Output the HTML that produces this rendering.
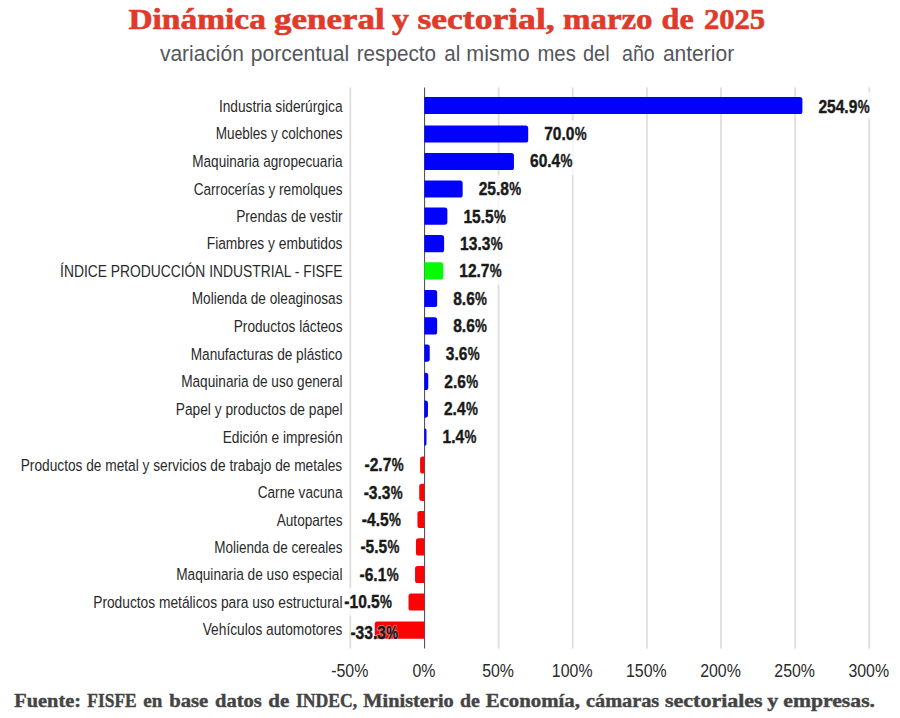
<!DOCTYPE html>
<html><head><meta charset="utf-8"><title>Dinámica general y sectorial</title>
<style>
html,body{margin:0;padding:0;background:#fff;}
body{width:900px;height:718px;overflow:hidden;}
svg{display:block;}
text{font-family:"Liberation Sans",sans-serif;}
.t{font-family:"Liberation Serif",serif;font-weight:bold;font-size:29.2px;fill:#df3a2a;stroke:#df3a2a;stroke-width:0.6px;}
.s{font-size:21.6px;fill:#53575c;}
.f{font-family:"Liberation Serif",serif;font-weight:bold;font-size:17.8px;fill:#444;stroke:#444;stroke-width:0.4px;}
.cat{font-size:16.5px;fill:#2a2a2a;}
.val{font-size:18.6px;font-weight:bold;fill:#1a1a1a;stroke:#1a1a1a;stroke-width:0.4px;}
.ax{font-size:19.0px;fill:#2a2a2a;}
</style></head><body>
<svg width="900" height="718" viewBox="0 0 900 718">
<rect width="900" height="718" fill="#ffffff"/>
<text class="t" transform="translate(128.40,28.5) scale(1.1463,1)">Dinámica</text>
<text class="t" transform="translate(274.00,28.5) scale(1.1985,1)">general</text>
<text class="t" transform="translate(392.00,28.5) scale(1.1644,1)">y</text>
<text class="t" transform="translate(417.50,28.5) scale(1.2176,1)">sectorial,</text>
<text class="t" transform="translate(563.00,28.5) scale(1.1277,1)">marzo</text>
<text class="t" transform="translate(661.60,28.5) scale(1.0993,1)">de</text>
<text class="t" transform="translate(704.00,28.5) scale(1.0479,1)">2025</text>
<text class="s" transform="translate(160.00,60.7) scale(0.9706,1)">variación</text>
<text class="s" transform="translate(250.70,60.7) scale(0.9775,1)">porcentual</text>
<text class="s" transform="translate(356.70,60.7) scale(0.9573,1)">respecto</text>
<text class="s" transform="translate(444.20,60.7) scale(0.9521,1)">al</text>
<text class="s" transform="translate(466.30,60.7) scale(0.9954,1)">mismo</text>
<text class="s" transform="translate(537.40,60.7) scale(0.9411,1)">mes</text>
<text class="s" transform="translate(582.90,60.7) scale(0.9266,1)">del</text>
<text class="s" transform="translate(622.00,60.7) scale(0.9076,1)">año</text>
<text class="s" transform="translate(662.90,60.7) scale(0.9734,1)">anterior</text>
<line x1="350.30" y1="87.5" x2="350.30" y2="648.5" stroke="#dedede" stroke-width="1.8"/>
<line x1="498.58" y1="87.5" x2="498.58" y2="648.5" stroke="#dedede" stroke-width="1.8"/>
<line x1="572.72" y1="87.5" x2="572.72" y2="648.5" stroke="#dedede" stroke-width="1.8"/>
<line x1="646.86" y1="87.5" x2="646.86" y2="648.5" stroke="#dedede" stroke-width="1.8"/>
<line x1="721.00" y1="87.5" x2="721.00" y2="648.5" stroke="#dedede" stroke-width="1.8"/>
<line x1="795.14" y1="87.5" x2="795.14" y2="648.5" stroke="#dedede" stroke-width="1.8"/>
<line x1="869.28" y1="87.5" x2="869.28" y2="648.5" stroke="#dedede" stroke-width="1.8"/>
<line x1="424.59999999999997" y1="87.5" x2="424.59999999999997" y2="648.5" stroke="#444" stroke-width="1"/>
<path d="M424.40 96.90H799.79Q802.39 96.90 802.39 99.50V111.50Q802.39 114.10 799.79 114.10H424.40Z" fill="#0202fc"/>
<path d="M424.40 125.40H525.60Q528.20 125.40 528.20 128.00V140.00Q528.20 142.60 525.60 142.60H424.40Z" fill="#0202fc"/>
<path d="M424.40 152.90H511.37Q513.97 152.90 513.97 155.50V167.50Q513.97 170.10 511.37 170.10H424.40Z" fill="#0202fc"/>
<path d="M424.40 180.40H460.06Q462.66 180.40 462.66 183.00V195.00Q462.66 197.60 460.06 197.60H424.40Z" fill="#0202fc"/>
<path d="M424.40 207.50H444.78Q447.38 207.50 447.38 210.10V222.10Q447.38 224.70 444.78 224.70H424.40Z" fill="#0202fc"/>
<path d="M424.40 235.10H441.52Q444.12 235.10 444.12 237.70V249.70Q444.12 252.30 441.52 252.30H424.40Z" fill="#0202fc"/>
<path d="M424.40 262.30H440.63Q443.23 262.30 443.23 264.90V276.90Q443.23 279.50 440.63 279.50H424.40Z" fill="#04fb04"/>
<path d="M424.40 289.90H434.55Q437.15 289.90 437.15 292.50V304.50Q437.15 307.10 434.55 307.10H424.40Z" fill="#0202fc"/>
<path d="M424.40 317.30H434.55Q437.15 317.30 437.15 319.90V331.90Q437.15 334.50 434.55 334.50H424.40Z" fill="#0202fc"/>
<path d="M424.40 344.50H427.14Q429.74 344.50 429.74 347.10V359.10Q429.74 361.70 427.14 361.70H424.40Z" fill="#0202fc"/>
<path d="M424.40 372.80H425.66Q428.26 372.80 428.26 375.40V387.40Q428.26 390.00 425.66 390.00H424.40Z" fill="#0202fc"/>
<path d="M424.40 400.50H425.36Q427.96 400.50 427.96 403.10V415.10Q427.96 417.70 425.36 417.70H424.40Z" fill="#0202fc"/>
<path d="M424.40 428.40H424.82Q426.48 428.40 426.48 430.06V443.94Q426.48 445.60 424.82 445.60H424.40Z" fill="#0202fc"/>
<path d="M424.10 456.40H422.70Q420.10 456.40 420.10 459.00V471.00Q420.10 473.60 422.70 473.60H424.10Z" fill="#fd0202"/>
<path d="M424.10 483.70H421.81Q419.21 483.70 419.21 486.30V498.30Q419.21 500.90 421.81 500.90H424.10Z" fill="#fd0202"/>
<path d="M424.10 510.90H420.03Q417.43 510.90 417.43 513.50V525.50Q417.43 528.10 420.03 528.10H424.10Z" fill="#fd0202"/>
<path d="M424.10 538.30H418.54Q415.94 538.30 415.94 540.90V552.90Q415.94 555.50 418.54 555.50H424.10Z" fill="#fd0202"/>
<path d="M424.10 565.90H417.65Q415.05 565.90 415.05 568.50V580.50Q415.05 583.10 417.65 583.10H424.10Z" fill="#fd0202"/>
<path d="M424.10 593.40H411.13Q408.53 593.40 408.53 596.00V608.00Q408.53 610.60 411.13 610.60H424.10Z" fill="#fd0202"/>
<path d="M424.10 621.50H377.32Q374.72 621.50 374.72 624.10V636.10Q374.72 638.70 377.32 638.70H424.10Z" fill="#fd0202"/>
<rect x="814.39" y="91.71" width="59.21" height="27.58" fill="#fff" fill-opacity="0.75"/>
<rect x="540.20" y="120.21" width="50.54" height="27.58" fill="#fff" fill-opacity="0.75"/>
<rect x="525.97" y="147.71" width="50.54" height="27.58" fill="#fff" fill-opacity="0.75"/>
<rect x="474.66" y="175.21" width="50.54" height="27.58" fill="#fff" fill-opacity="0.75"/>
<rect x="459.38" y="202.31" width="50.54" height="27.58" fill="#fff" fill-opacity="0.75"/>
<rect x="456.12" y="229.91" width="50.54" height="27.58" fill="#fff" fill-opacity="0.75"/>
<rect x="455.23" y="257.11" width="50.54" height="27.58" fill="#fff" fill-opacity="0.75"/>
<rect x="449.15" y="284.71" width="41.88" height="27.58" fill="#fff" fill-opacity="0.75"/>
<rect x="449.15" y="312.11" width="41.88" height="27.58" fill="#fff" fill-opacity="0.75"/>
<rect x="441.74" y="339.31" width="41.88" height="27.58" fill="#fff" fill-opacity="0.75"/>
<rect x="440.26" y="367.61" width="41.88" height="27.58" fill="#fff" fill-opacity="0.75"/>
<rect x="439.96" y="395.31" width="41.88" height="27.58" fill="#fff" fill-opacity="0.75"/>
<rect x="438.48" y="423.21" width="41.88" height="27.58" fill="#fff" fill-opacity="0.75"/>
<rect x="360.53" y="451.21" width="47.07" height="27.58" fill="#fff" fill-opacity="0.75"/>
<rect x="359.64" y="478.51" width="47.07" height="27.58" fill="#fff" fill-opacity="0.75"/>
<rect x="357.86" y="505.71" width="47.07" height="27.58" fill="#fff" fill-opacity="0.75"/>
<rect x="356.38" y="533.11" width="47.07" height="27.58" fill="#fff" fill-opacity="0.75"/>
<rect x="355.49" y="560.71" width="47.07" height="27.58" fill="#fff" fill-opacity="0.75"/>
<rect x="340.29" y="588.21" width="55.73" height="27.58" fill="#fff" fill-opacity="0.75"/>
<text class="cat" transform="translate(218.90,112.20) scale(0.8325,1)">Industria siderúrgica</text>
<text class="val" transform="translate(818.39,112.60) scale(0.8380,1)">254.9</text><text class="val" transform="translate(857.70,112.60) scale(0.7200,1)">%</text>
<text class="cat" transform="translate(215.80,139.40) scale(0.8230,1)">Muebles y colchones</text>
<text class="val" transform="translate(544.20,139.80) scale(0.8380,1)">70.0</text><text class="val" transform="translate(574.84,139.80) scale(0.7200,1)">%</text>
<text class="cat" transform="translate(192.20,166.90) scale(0.8239,1)">Maquinaria agropecuaria</text>
<text class="val" transform="translate(529.97,167.30) scale(0.8380,1)">60.4</text><text class="val" transform="translate(560.60,167.30) scale(0.7200,1)">%</text>
<text class="cat" transform="translate(193.70,194.60) scale(0.8243,1)">Carrocerías y remolques</text>
<text class="val" transform="translate(478.66,195.00) scale(0.8380,1)">25.8</text><text class="val" transform="translate(509.30,195.00) scale(0.7200,1)">%</text>
<text class="cat" transform="translate(236.20,222.10) scale(0.8286,1)">Prendas de vestir</text>
<text class="val" transform="translate(463.38,222.50) scale(0.8380,1)">15.5</text><text class="val" transform="translate(494.02,222.50) scale(0.7200,1)">%</text>
<text class="cat" transform="translate(206.70,249.40) scale(0.8373,1)">Fiambres y embutidos</text>
<text class="val" transform="translate(460.12,249.80) scale(0.8380,1)">13.3</text><text class="val" transform="translate(490.76,249.80) scale(0.7200,1)">%</text>
<text class="cat" transform="translate(60.10,276.70) scale(0.8389,1)">ÍNDICE PRODUCCIÓN INDUSTRIAL - FISFE</text>
<text class="val" transform="translate(459.23,277.10) scale(0.8380,1)">12.7</text><text class="val" transform="translate(489.87,277.10) scale(0.7200,1)">%</text>
<text class="cat" transform="translate(191.70,304.30) scale(0.8266,1)">Molienda de oleaginosas</text>
<text class="val" transform="translate(453.15,304.70) scale(0.8380,1)">8.6</text><text class="val" transform="translate(475.12,304.70) scale(0.7200,1)">%</text>
<text class="cat" transform="translate(233.70,332.00) scale(0.8303,1)">Productos lácteos</text>
<text class="val" transform="translate(453.15,332.40) scale(0.8380,1)">8.6</text><text class="val" transform="translate(475.12,332.40) scale(0.7200,1)">%</text>
<text class="cat" transform="translate(190.70,359.50) scale(0.8281,1)">Manufacturas de plástico</text>
<text class="val" transform="translate(445.74,359.90) scale(0.8380,1)">3.6</text><text class="val" transform="translate(467.71,359.90) scale(0.7200,1)">%</text>
<text class="cat" transform="translate(181.20,387.40) scale(0.8261,1)">Maquinaria de uso general</text>
<text class="val" transform="translate(444.26,387.80) scale(0.8380,1)">2.6</text><text class="val" transform="translate(466.22,387.80) scale(0.7200,1)">%</text>
<text class="cat" transform="translate(175.70,414.80) scale(0.8346,1)">Papel y productos de papel</text>
<text class="val" transform="translate(443.96,415.20) scale(0.8380,1)">2.4</text><text class="val" transform="translate(465.93,415.20) scale(0.7200,1)">%</text>
<text class="cat" transform="translate(222.70,442.90) scale(0.8327,1)">Edición e impresión</text>
<text class="val" transform="translate(442.48,443.30) scale(0.8380,1)">1.4</text><text class="val" transform="translate(464.44,443.30) scale(0.7200,1)">%</text>
<text class="cat" transform="translate(20.70,471.00) scale(0.8317,1)">Productos de metal y servicios de trabajo de metales</text>
<text class="val" transform="translate(364.53,471.40) scale(0.8380,1)">-2.7</text><text class="val" transform="translate(391.69,471.40) scale(0.7200,1)">%</text>
<text class="cat" transform="translate(257.70,498.10) scale(0.8263,1)">Carne vacuna</text>
<text class="val" transform="translate(363.64,498.50) scale(0.8380,1)">-3.3</text><text class="val" transform="translate(390.80,498.50) scale(0.7200,1)">%</text>
<text class="cat" transform="translate(276.70,525.80) scale(0.8259,1)">Autopartes</text>
<text class="val" transform="translate(361.86,526.20) scale(0.8380,1)">-4.5</text><text class="val" transform="translate(389.02,526.20) scale(0.7200,1)">%</text>
<text class="cat" transform="translate(214.20,552.80) scale(0.8186,1)">Molienda de cereales</text>
<text class="val" transform="translate(360.38,553.20) scale(0.8380,1)">-5.5</text><text class="val" transform="translate(387.54,553.20) scale(0.7200,1)">%</text>
<text class="cat" transform="translate(176.20,580.30) scale(0.8284,1)">Maquinaria de uso especial</text>
<text class="val" transform="translate(359.49,580.70) scale(0.8380,1)">-6.1</text><text class="val" transform="translate(386.65,580.70) scale(0.7200,1)">%</text>
<text class="cat" transform="translate(93.20,607.60) scale(0.8342,1)">Productos metálicos para uso estructural</text>
<text class="val" transform="translate(344.29,608.00) scale(0.8380,1)">-10.5</text><text class="val" transform="translate(380.12,608.00) scale(0.7200,1)">%</text>
<text class="cat" transform="translate(202.70,634.50) scale(0.8335,1)">Vehículos automotores</text>
<g fill="none" stroke="#fff" stroke-opacity="0.45" stroke-width="2.2" font-size="18.6" font-weight="bold"><text transform="translate(350.40,638.70) scale(0.8380,1)">-33.3</text><text transform="translate(386.23,638.70) scale(0.7200,1)">%</text></g>
<text class="val" transform="translate(350.40,638.70) scale(0.8380,1)">-33.3</text><text class="val" transform="translate(386.23,638.70) scale(0.7200,1)">%</text>
<text class="ax" transform="translate(331.22,677) scale(0.8380,1)">-50%</text>
<text class="ax" transform="translate(412.43,677) scale(0.8380,1)">0%</text>
<text class="ax" transform="translate(482.15,677) scale(0.8380,1)">50%</text>
<text class="ax" transform="translate(551.86,677) scale(0.8380,1)">100%</text>
<text class="ax" transform="translate(626.00,677) scale(0.8380,1)">150%</text>
<text class="ax" transform="translate(700.14,677) scale(0.8380,1)">200%</text>
<text class="ax" transform="translate(774.28,677) scale(0.8380,1)">250%</text>
<text class="ax" transform="translate(848.42,677) scale(0.8380,1)">300%</text>
<text class="f" transform="translate(14.30,707.1) scale(1.1435,1)">Fuente:</text>
<text class="f" transform="translate(87.30,707.1) scale(0.9793,1)">FISFE</text>
<text class="f" transform="translate(143.30,707.1) scale(1.0674,1)">en</text>
<text class="f" transform="translate(169.30,707.1) scale(1.1599,1)">base</text>
<text class="f" transform="translate(215.00,707.1) scale(1.1517,1)">datos</text>
<text class="f" transform="translate(268.30,707.1) scale(1.1742,1)">de</text>
<text class="f" transform="translate(296.00,707.1) scale(0.9916,1)">INDEC,</text>
<text class="f" transform="translate(363.30,707.1) scale(1.1443,1)">Ministerio</text>
<text class="f" transform="translate(460.00,707.1) scale(1.1124,1)">de</text>
<text class="f" transform="translate(485.70,707.1) scale(1.1700,1)">Economía,</text>
<text class="f" transform="translate(586.00,707.1) scale(1.1407,1)">cámaras</text>
<text class="f" transform="translate(665.00,707.1) scale(1.2357,1)">sectoriales</text>
<text class="f" transform="translate(767.30,707.1) scale(1.2360,1)">y</text>
<text class="f" transform="translate(783.30,707.1) scale(1.2176,1)">empresas.</text>
</svg>
</body></html>
